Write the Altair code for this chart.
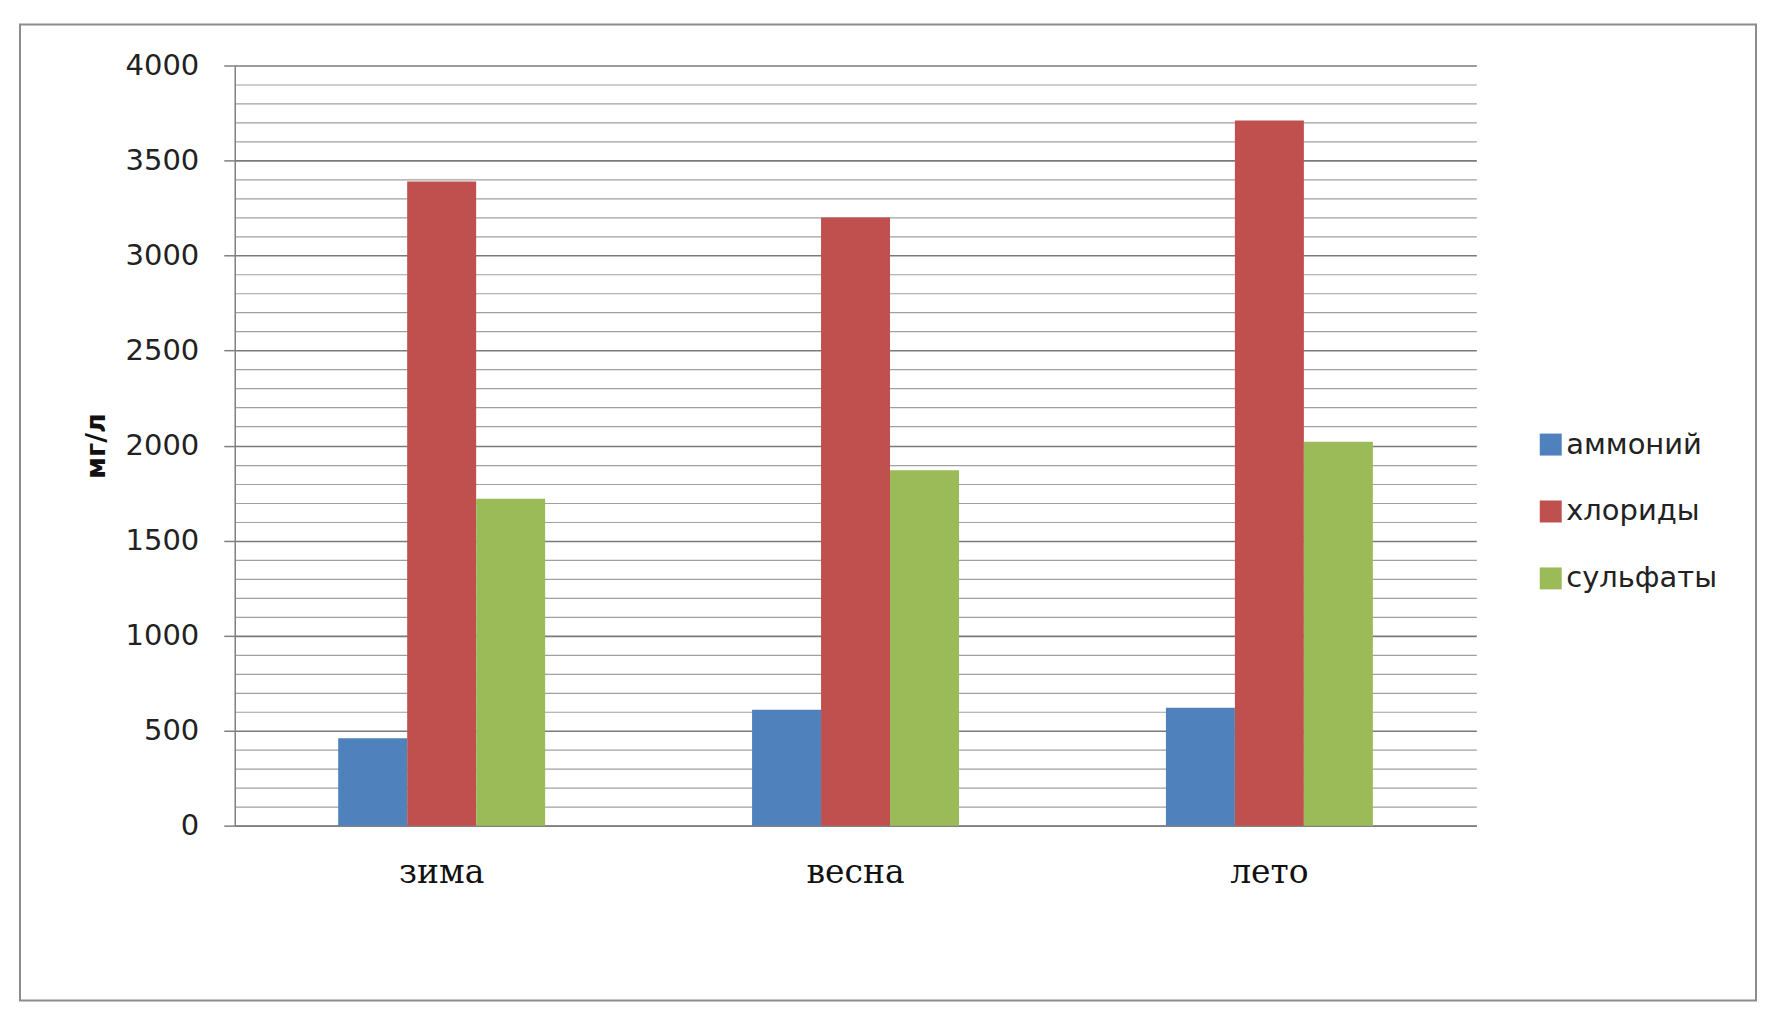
import altair as alt
import pandas as pd

SEASONS = ["зима", "весна", "лето"]
SERIES = ["аммоний", "хлориды", "сульфаты"]
AMMONIUM = [460, 610, 620]
CHLORIDES = [3390, 3200, 3710]
SULFATES = [1720, 1870, 2020]
COLORS = ["#4F81BD", "#C0504D", "#9BBB59"]
Y_TICKS = list(range(0, 4001, 100))

rows = []
for i, s in enumerate(SEASONS):
    for name, vals in zip(SERIES, [AMMONIUM, CHLORIDES, SULFATES]):
        rows.append({"season": s, "series": name, "value": vals[i]})
df = pd.DataFrame(rows)

W, H = 1243, 761

bars = alt.Chart(df).mark_bar().encode(
    x=alt.X("season:N", sort=SEASONS, title=None,
            scale=alt.Scale(paddingInner=0.5, paddingOuter=0.25),
            axis=alt.Axis(labelAngle=0, labelFont="DejaVu Serif", labelFontSize=33,
                          labelColor="#111111", labelPadding=31, ticks=False, tickSize=0,
                          domainColor="#808080", domainWidth=1.5, grid=False)),
    xOffset=alt.XOffset("series:N", sort=SERIES,
                        scale=alt.Scale(paddingInner=0, paddingOuter=0)),
    y=alt.Y("value:Q", title="мг/л",
            scale=alt.Scale(domain=[0, 4000], nice=False),
            axis=alt.Axis(values=Y_TICKS,
                          labelExpr="datum.value % 500 === 0 ? datum.label : ''",
                          format="d",
                          labelFont="DejaVu Sans", labelFontSize=29, labelColor="#222222",
                          labelPadding=25, tickSize=11, tickColor="#808080", tickWidth=1.5,
                          tickOpacity={"condition": {"test": "datum.value % 500 === 0", "value": 1}, "value": 0},
                          grid=True,
                          gridColor={"condition": {"test": "datum.value % 500 === 0", "value": "#7a7a7a"}, "value": "#a0a0a0"},
                          gridWidth={"condition": {"test": "datum.value % 500 === 0", "value": 1.6}, "value": 1.2},
                          domainColor="#808080", domainWidth=1.5,
                          titleFont="DejaVu Sans", titleFontSize=27, titleFontWeight="bold",
                          titleColor="#111111", titlePadding=15)),
    color=alt.Color("series:N", sort=SERIES,
                    scale=alt.Scale(domain=SERIES, range=COLORS),
                    legend=alt.Legend(title=None, orient="none", legendX=1303, legendY=365,
                                      symbolType="square", symbolSize=484, symbolStrokeWidth=0,
                                      symbolOpacity=1,
                                      labelFont="DejaVu Sans", labelFontSize=29, labelColor="#222222",
                                      labelOffset=1, rowPadding=37, padding=0)),
)

frame = alt.Chart(pd.DataFrame({"f": [0]})).mark_rect(
    fill=None, stroke="#8c8c8c", strokeWidth=2
).encode(
    x=alt.value(-215), x2=alt.value(1523), y=alt.value(-41), y2=alt.value(936)
)

chart = alt.layer(frame, bars).properties(
    width=W, height=H,
    padding={"left": 11, "top": 15, "right": 0, "bottom": 0},
    background="white",
).configure_view(stroke=None)

chart.save("out.html", embed_options={"renderer": "svg", "actions": False})
